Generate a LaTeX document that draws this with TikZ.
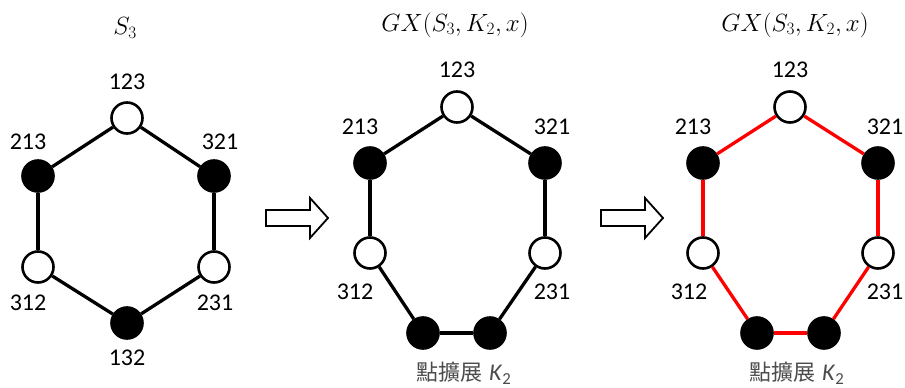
\documentclass[tikz,border=0pt]{standalone}
\usepackage{fontspec}
\setmainfont{Carlito}
\newfontfamily\cjkfont{Noto Sans CJK TC}

\tikzset{
  vblack/.style={circle, draw, fill=black, line width=2.6pt, minimum size=31pt, inner sep=0pt},
  vwhite/.style={circle, draw, fill=white, line width=2.6pt, minimum size=31pt, inner sep=0pt},
  vlabel/.style={font=\fontsize{24}{26}\selectfont, inner sep=0pt},
  title/.style={font=\fontsize{24}{26}\selectfont, inner sep=0pt},
  ktext/.style={font=\fontsize{22}{24}\selectfont, inner sep=0pt, black!70},
  edge/.style={line width=3.3pt},
  redge/.style={line width=3.3pt, red},
  bigarrow/.style={draw, fill=white, line width=1.8pt, line join=miter}
}

\begin{document}
\begin{tikzpicture}[x=1pt, y=-1pt]
\useasboundingbox (0,0) rectangle (905,388);

% S_3
\node[title] (t1) at (125,28) {$S_3$};
\node[vwhite] (a123) at (127,118) {};
\node[vblack] (a213) at (38,176) {};
\node[vblack] (a321) at (214,176) {};
\node[vwhite] (a312) at (38,267) {};
\node[vwhite] (a231) at (214,267) {};
\node[vblack] (a132) at (127,323) {};
\node[vlabel] (la123) at (127,82) {123};
\node[vlabel] (la213) at (28,142) {213};
\node[vlabel] (la321) at (220,142) {321};
\node[vlabel] (la312) at (28,303) {312};
\node[vlabel] (la231) at (215,303) {231};
\node[vlabel] (la132) at (127,358) {132};
\draw[edge] (a123) -- (a213);
\draw[edge] (a123) -- (a321);
\draw[edge] (a213) -- (a312);
\draw[edge] (a321) -- (a231);
\draw[edge] (a312) -- (a132);
\draw[edge] (a231) -- (a132);

% hollow arrows
\draw[bigarrow, shift={(266,218)}] (0,-8) -- (44,-8) -- (44,-20) -- (62,0)
  -- (44,20) -- (44,8) -- (0,8) -- cycle;
\draw[bigarrow, shift={(601,218)}] (0,-8) -- (44,-8) -- (44,-20) -- (62,0)
  -- (44,20) -- (44,8) -- (0,8) -- cycle;

% GX(S_3,K_2,x)
\node[title] (t2) at (455,25) {$GX(S_3,K_2,x)$};
\node[vwhite] (b123) at (457,107) {};
\node[vblack] (b213) at (370,163) {};
\node[vblack] (b321) at (545,163) {};
\node[vwhite] (b312) at (370,253) {};
\node[vwhite] (b231) at (545,253) {};
\node[vblack] (bk1) at (423,333) {};
\node[vblack] (bk2) at (490,333) {};
\node[vlabel] (lb123) at (457,70) {123};
\node[vlabel] (lb213) at (360,127) {213};
\node[vlabel] (lb321) at (552,127) {321};
\node[vlabel] (lb312) at (355,292) {312};
\node[vlabel] (lb231) at (552,292) {231};
\node[ktext] (kb) at (464,373) {\cjkfont 點擴展\hspace{0.3em}\normalfont\fontsize{24}{26}\selectfont\textit{K}\textsubscript{2}};
\draw[edge] (b123) -- (b213);
\draw[edge] (b123) -- (b321);
\draw[edge] (b213) -- (b312);
\draw[edge] (b321) -- (b231);
\draw[edge] (b312) -- (bk1);
\draw[edge] (bk1) -- (bk2);
\draw[edge] (b231) -- (bk2);

% red copy
\node[title] (t3) at (795,25) {$GX(S_3,K_2,x)$};
\node[vwhite] (c123) at (790,107) {};
\node[vblack] (c213) at (703,163) {};
\node[vblack] (c321) at (878,163) {};
\node[vwhite] (c312) at (703,253) {};
\node[vwhite] (c231) at (878,253) {};
\node[vblack] (ck1) at (757,333) {};
\node[vblack] (ck2) at (824,333) {};
\node[vlabel] (lc123) at (790,70) {123};
\node[vlabel] (lc213) at (693,127) {213};
\node[vlabel] (lc321) at (885,127) {321};
\node[vlabel] (lc312) at (689,292) {312};
\node[vlabel] (lc231) at (885,292) {231};
\node[ktext] (kc) at (797,373) {\cjkfont 點擴展\hspace{0.3em}\normalfont\fontsize{24}{26}\selectfont\textit{K}\textsubscript{2}};
\draw[redge] (c123) -- (c213);
\draw[redge] (c123) -- (c321);
\draw[redge] (c213) -- (c312);
\draw[redge] (c321) -- (c231);
\draw[redge] (c312) -- (ck1);
\draw[redge] (ck1) -- (ck2);
\draw[redge] (c231) -- (ck2);
\end{tikzpicture}
\end{document}
